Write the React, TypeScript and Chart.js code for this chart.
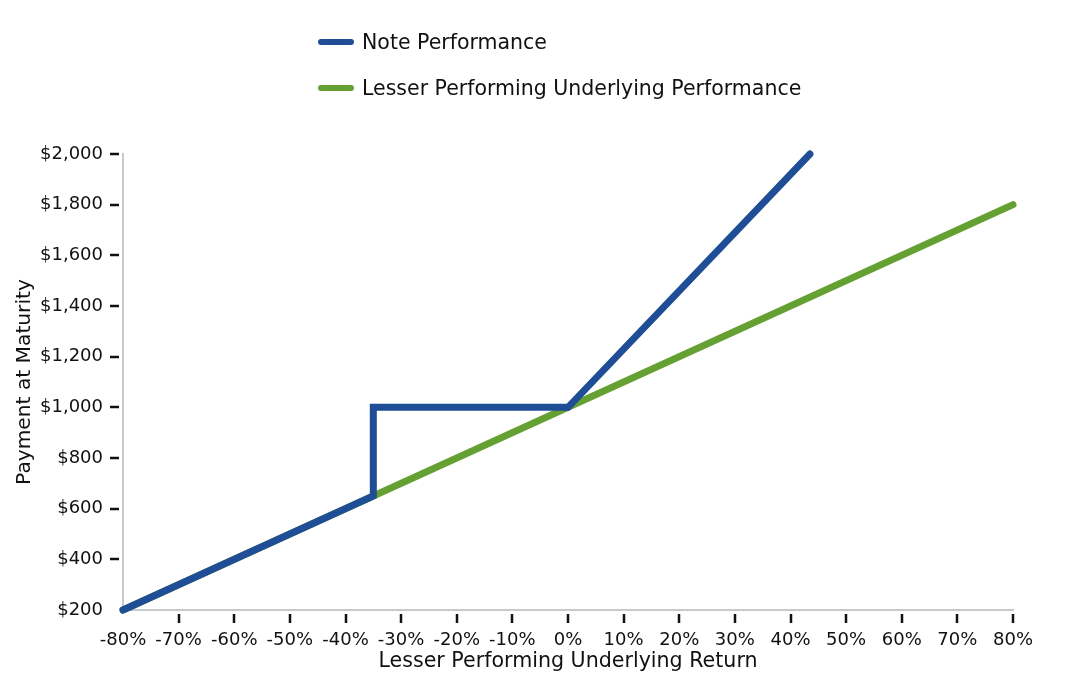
import React, { useEffect, useRef } from "react";
import { Chart, registerables } from "chart.js";

Chart.register(...registerables);

// Data (returns in %, payments in $)
const noteReturns = [-80, -35, -35, 0, 43.5];
const notePayments = [200, 650, 1000, 1000, 2000];
const underlyingReturns = [-80, 80];
const underlyingPayments = [200, 1800];

const seriesNames = ["Note Performance", "Lesser Performing Underlying Performance"];
const seriesColors = ["#1f4e96", "#65a132"];

const xTitle = "Lesser Performing Underlying Return";
const yTitle = "Payment at Maturity";

const FONT = "'DejaVu Sans', sans-serif";

const tickMarks = {
  id: "tickMarks",
  afterDraw(chart: any) {
    const { ctx } = chart;
    const xs = chart.scales.x;
    const ys = chart.scales.y;
    ctx.save();
    ctx.strokeStyle = "#111";
    ctx.lineWidth = 2.5;
    ys.ticks.forEach((t: any, i: number) => {
      if (i === 0) return;
      const py = Math.round(ys.getPixelForValue(t.value));
      ctx.beginPath();
      ctx.moveTo(ys.right - 13, py);
      ctx.lineTo(ys.right - 4, py);
      ctx.stroke();
    });
    xs.ticks.forEach((t: any, i: number) => {
      if (i === 0) return;
      const px = Math.round(xs.getPixelForValue(t.value));
      ctx.beginPath();
      ctx.moveTo(px, xs.top + 4);
      ctx.lineTo(px, xs.top + 13);
      ctx.stroke();
    });
    ctx.restore();
  },
};

export default function App() {
  const canvasRef = useRef<HTMLCanvasElement | null>(null);

  useEffect(() => {
    if (!canvasRef.current) return;
    const chart = new Chart(canvasRef.current, {
      type: "line",
      data: {
        datasets: [
          {
            label: seriesNames[0],
            data: noteReturns.map((r, i) => ({ x: r, y: notePayments[i] })),
            borderColor: seriesColors[0],
            backgroundColor: seriesColors[0],
            borderWidth: 7,
            pointRadius: 0,
            borderCapStyle: "round",
            borderJoinStyle: "miter",
            clip: 8,
          },
          {
            label: seriesNames[1],
            data: underlyingReturns.map((r, i) => ({ x: r, y: underlyingPayments[i] })),
            borderColor: seriesColors[1],
            backgroundColor: seriesColors[1],
            borderWidth: 7,
            pointRadius: 0,
            borderCapStyle: "round",
            clip: 8,
          },
        ],
      },
      options: {
        animation: false,
        responsive: false,
        maintainAspectRatio: false,
        layout: { padding: { top: 154, right: 73, left: 0, bottom: 0 } },
        plugins: {
          legend: { display: false },
          tooltip: { enabled: false },
        },
        scales: {
          x: {
            type: "linear",
            min: -80,
            max: 80,
            afterFit: (s: any) => {
              s.height = 78;
            },
            ticks: {
              stepSize: 10,
              padding: 8,
              color: "#111",
              font: { family: FONT, size: 18 },
              callback: (v: any) => `${v}%`,
              maxRotation: 0,
            },
            grid: {
              drawOnChartArea: false,
              drawTicks: true,
              tickLength: 12,
              tickColor: "transparent",
            },
            border: { display: true, color: "#c5cacd", width: 2 },
            title: {
              display: true,
              text: xTitle,
              color: "#111",
              font: { family: FONT, size: 20.6 },
              padding: { top: 0, bottom: 14 },
            },
          },
          y: {
            type: "linear",
            min: 200,
            max: 2000,
            afterFit: (s: any) => {
              s.width = 123;
            },
            ticks: {
              stepSize: 200,
              padding: 8,
              color: "#111",
              font: { family: FONT, size: 18 },
              callback: (v: any) => "$" + Number(v).toLocaleString("en-US"),
            },
            grid: {
              drawOnChartArea: false,
              drawTicks: true,
              tickLength: 12,
              tickColor: "transparent",
            },
            border: { display: true, color: "#c5cacd", width: 2 },
            title: {
              display: true,
              text: yTitle,
              color: "#111",
              font: { family: FONT, size: 20.2 },
              padding: { top: 13, bottom: 0 },
            },
          },
        },
      },
      plugins: [tickMarks],
    } as any);
    return () => chart.destroy();
  }, []);

  return (
    <div style={{ position: "fixed", left: 0, top: 0, width: 1086, height: 688, background: "#fff" }}>
      <canvas ref={canvasRef} width={1086} height={688} style={{ position: "absolute", left: 0, top: 0 }} />
      <div style={{ position: "absolute", left: 318, top: 28, fontFamily: FONT, fontSize: 20.5, color: "#111" }}>
        {seriesNames.map((name, i) => (
          <div key={name} style={{ display: "flex", alignItems: "center", height: 28, marginBottom: 18 }}>
            <span
              style={{
                display: "inline-block",
                width: 36,
                height: 6,
                borderRadius: 3,
                background: seriesColors[i],
                marginRight: 8,
              }}
            />
            <span>{name}</span>
          </div>
        ))}
      </div>
    </div>
  );
}
